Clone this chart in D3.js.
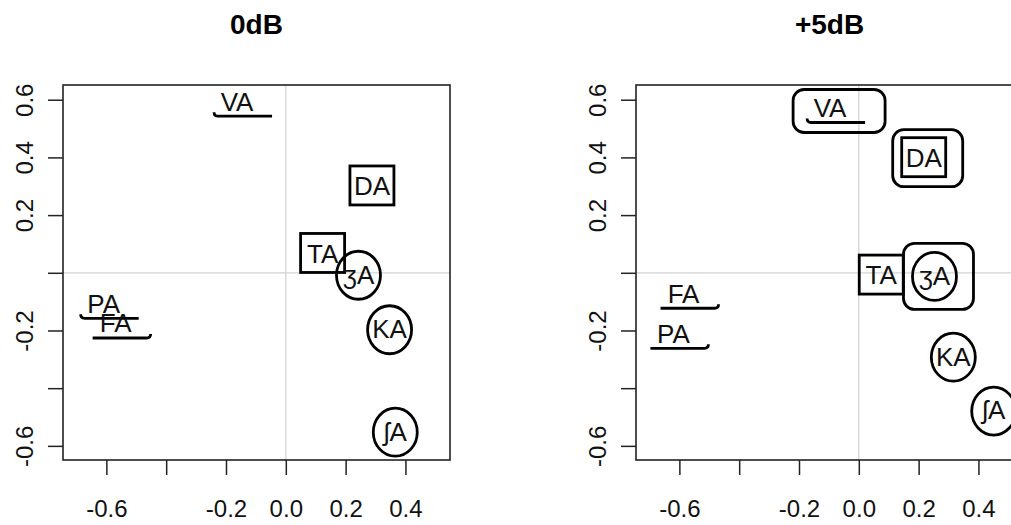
<!DOCTYPE html>
<html>
<head>
<meta charset="utf-8">
<script src="https://cdn.jsdelivr.net/npm/d3@7"></script>
<style>
  body { margin: 0; background: #fff; }
  svg { display: block; font-family: "Liberation Sans", Arial, sans-serif; }
</style>
</head>
<body>
<div id="chart"></div>
<script>
// Data
const titles = ["0dB", "+5dB"];
const syllables = ["VA", "DA", "TA", "ʒA", "KA", "ʃA", "PA", "FA"];
const dim1_0dB = [-0.163, 0.288, 0.123, 0.243, 0.347, 0.366, -0.609, -0.569];
const dim2_0dB = [0.595, 0.301, 0.067, -0.005, -0.194, -0.549, -0.106, -0.174];
const dim1_5dB = [-0.096, 0.217, 0.075, 0.253, 0.316, 0.451, -0.620, -0.586];
const dim2_5dB = [0.573, 0.399, -0.008, -0.009, -0.289, -0.476, -0.210, -0.071];
// marker kind per syllable: underline, box or ring
const marker = ["under", "box", "box", "ring", "ring", "ring", "under", "under"];
// syllables grouped together at +5dB
const grouped5dB = [true, true, false, true, false, false, false, false];
// side of the little hook on underlines
const hook0dB = ["L", "", "", "", "", "", "L", "R"];
const hook5dB = ["L", "", "", "", "", "", "R", "R"];

const xTicks = [-0.6, -0.4, -0.2, 0, 0.2, 0.4];
const xTickLabels = ["-0.6", "", "-0.2", "0.0", "0.2", "0.4"];
const yTicks = [0.6, 0.4, 0.2, 0, -0.2, -0.4, -0.6];
const yTickLabels = ["0.6", "0.4", "0.2", "", "-0.2", "", "-0.6"];

const xDomain = [-0.745, 0.549];
const yDomain = [-0.649, 0.651];

const width = 1011;
const height = 525;
const plotTop = 85, plotBottom = 460;
const plotW = 387;

const svg = d3.select("#chart")
  .append("svg")
  .attr("width", width)
  .attr("height", height);

const panels = [
  { title: titles[0], left: 63, xs: dim1_0dB, ys: dim2_0dB, hooks: hook0dB, groups: null },
  { title: titles[1], left: 636, xs: dim1_5dB, ys: dim2_5dB, hooks: hook5dB, groups: grouped5dB }
];

// inner marker extents relative to label centre (px)
function markerBox(kind) {
  if (kind === "under") return [-28, 38, -10, 15];
  if (kind === "box") return [-22, 22, -20, 19];
  return [-22, 22, -24, 24];
}

panels.forEach(p => {
  const x = d3.scaleLinear().domain(xDomain).range([p.left, p.left + plotW]);
  const y = d3.scaleLinear().domain(yDomain).range([plotBottom, plotTop]);
  const g = svg.append("g");

  // grey reference lines through the origin
  g.append("line")
    .attr("x1", x(0)).attr("x2", x(0))
    .attr("y1", plotTop).attr("y2", plotBottom)
    .attr("stroke", "#d3d3d3").attr("stroke-width", 1.3);
  g.append("line")
    .attr("x1", p.left).attr("x2", p.left + plotW)
    .attr("y1", y(0)).attr("y2", y(0))
    .attr("stroke", "#d3d3d3").attr("stroke-width", 1.3);

  // axes
  const xAxis = g.append("g")
    .attr("transform", `translate(0,${plotBottom})`)
    .call(d3.axisBottom(x).tickValues(xTicks).tickSize(15).tickPadding(25)
      .tickFormat((d, i) => xTickLabels[i]));
  const yAxis = g.append("g")
    .attr("transform", `translate(${p.left},0)`)
    .call(d3.axisLeft(y).tickValues(yTicks).tickSize(15)
      .tickFormat((d, i) => yTickLabels[i]));

  [xAxis, yAxis].forEach(a => {
    a.select(".domain").remove();
    a.selectAll("line").attr("stroke", "#222").attr("stroke-width", 1.5);
    a.selectAll("text")
      .style("font-size", "24px")
      .style("font-family", "'Liberation Sans', Arial, sans-serif")
      .attr("fill", "#111");
  });
  yAxis.selectAll("text")
    .attr("x", null).attr("dy", null)
    .attr("text-anchor", "middle")
    .attr("transform", "translate(-30,0) rotate(-90)");

  // plot frame
  g.append("rect")
    .attr("x", p.left).attr("y", plotTop)
    .attr("width", plotW).attr("height", plotBottom - plotTop)
    .attr("fill", "none").attr("stroke", "#222").attr("stroke-width", 1.6);

  // title
  svg.append("text")
    .attr("x", p.left + plotW / 2)
    .attr("y", 34)
    .attr("text-anchor", "middle")
    .style("font-size", "28px")
    .style("font-weight", "bold")
    .attr("fill", "#000")
    .text(p.title);

  const items = syllables.map((s, i) => ({
    s, kind: marker[i], hook: p.hooks[i],
    grouped: p.groups ? p.groups[i] : false,
    cx: x(p.xs[i]), cy: y(p.ys[i])
  }));

  const marks = g.append("g")
    .attr("fill", "none").attr("stroke", "#000").attr("stroke-width", 2.8);

  items.forEach(d => {
    if (d.kind === "under") {
      const x0 = d.cx - 23, x1 = d.cx + 35, yy = d.cy + 15;
      let path = `M${x0},${yy}L${x1},${yy}`;
      if (d.hook === "L") path = `M${x0},${yy - 4}Q${x0},${yy} ${x0 + 4},${yy}L${x1},${yy}`;
      if (d.hook === "R") path = `M${x0},${yy}L${x1 - 4},${yy}Q${x1},${yy} ${x1},${yy - 4}`;
      marks.append("path").attr("d", path);
    } else if (d.kind === "box") {
      marks.append("rect")
        .attr("x", d.cx - 22).attr("y", d.cy - 20)
        .attr("width", 44).attr("height", 39);
    } else {
      marks.append("ellipse")
        .attr("cx", d.cx).attr("cy", d.cy + 1)
        .attr("rx", 22).attr("ry", 24);
    }
    if (d.grouped) {
      const b = markerBox(d.kind);
      marks.append("rect")
        .attr("x", d.cx + b[0] - 9).attr("y", d.cy + b[2] - 8)
        .attr("width", b[1] - b[0] + 26).attr("height", b[3] - b[2] + 18)
        .attr("rx", 11).attr("ry", 11);
    }
  });

  g.append("g").selectAll("text")
    .data(items)
    .join("text")
    .attr("x", d => d.cx)
    .attr("y", d => d.cy)
    .attr("dy", "0.36em")
    .attr("text-anchor", "middle")
    .style("font-size", "26px")
    .attr("fill", "#111")
    .text(d => d.s);
});
</script>
</body>
</html>
